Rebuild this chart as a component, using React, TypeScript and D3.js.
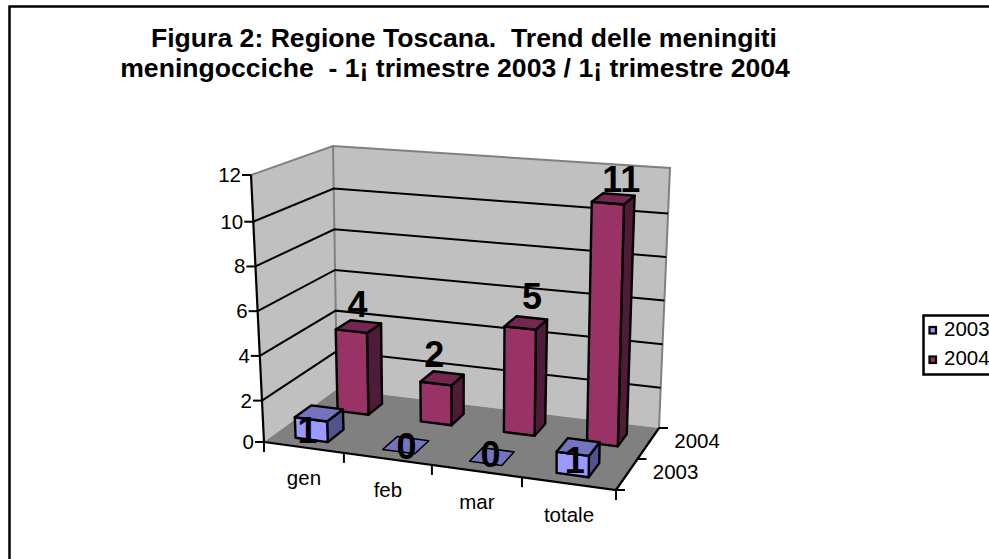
import React from "react";
import * as d3 from "d3";

const categories = ["gen", "feb", "mar", "totale"];
const seriesNames = ["2003", "2004"];
const values2003 = [1, 0, 0, 1];
const values2004 = [4, 2, 5, 11];
const yTicks = [0, 2, 4, 6, 8, 10, 12];
const titleLines = ["Figura 2: Regione Toscana.  Trend delle meningiti", "meningocciche  - 1¡ trimestre 2003 / 1¡ trimestre 2004"];

const colors = [
  { front: "#9999ff", top: "#7373bf", side: "#52528c" },
  { front: "#993366", top: "#732650", side: "#4e1c38" },
];

const uScale = d3.scaleLinear().domain([0, categories.length]).range([0, 1]);
const vScale = d3.scaleLinear().domain([0, seriesNames.length]).range([0, 1]);
const hScale = d3.scaleLinear().domain([0, 2, 10, 12]).range([0, 0.155, 0.825, 1]);
// The category axis ticks of the 3D projection are not evenly spaced
const tickU = d3.scaleLinear().domain([0, 1, 2, 3, 4]).range([0, 0.227, 0.477, 0.733, 1]);
const box = {
  f0: [264, 442], f1: [616, 490], b0: [337, 389], b1: [659, 428],
  tf0: [251, 175], tf1: [618, 212], tb0: [333, 146], tb1: [670, 168],
};
const mix = (a: number[], b: number[], t: number) => [a[0] + (b[0] - a[0]) * t, a[1] + (b[1] - a[1]) * t];
function projectRaw(u: number, v: number, h: number) {
  const bottom = mix(mix(box.f0, box.f1, u), mix(box.b0, box.b1, u), v);
  const top = mix(mix(box.tf0, box.tf1, u), mix(box.tb0, box.tb1, u), v);
  return mix(bottom, top, h);
}
const project = (cat: number, ser: number, val: number) => projectRaw(uScale(cat), vScale(ser), hScale(val));
const poly = (pts: number[][]) => pts.map(p => p.map(n => n.toFixed(1)).join(",")).join(" ");
const line = d3.line();

const FONT = "'Liberation Sans', Arial, sans-serif";
const HALF_U = 0.185;
const HALF_V = [0.23, 0.2];
const SERIES_SHIFT = [-0.065, 0];
const AXIS_FONT = 20.5;
// small per-label shifts of the data labels, as the source chart placed them
const labelNudge = [
  [[-17, 29], [-5, 13], [-7, 10], [-9, 25]],
  [[-1, -9], [-8, -11], [6, -14], [8, -7]],
];

function Bar({ cat, ser, val }: { cat: number; ser: number; val: number }) {
  const u0 = cat + 0.5 - HALF_U + SERIES_SHIFT[ser], u1 = cat + 0.5 + HALF_U + SERIES_SHIFT[ser];
  const v0 = ser + 0.5 - HALF_V[ser], v1 = ser + 0.5 + HALF_V[ser];
  const c = colors[ser];
  const stroke = { stroke: "#000", strokeWidth: 2.4, strokeLinejoin: "round" as const };
  return (
    <g>
      {val > 0 && <polygon points={poly([project(u1, v0, 0), project(u1, v1, 0), project(u1, v1, val), project(u1, v0, val)])} fill={c.side} {...stroke} />}
      {val > 0 && <polygon points={poly([project(u0, v0, 0), project(u1, v0, 0), project(u1, v0, val), project(u0, v0, val)])} fill={c.front} {...stroke} />}
      <polygon points={poly([project(u0, v0, val), project(u1, v0, val), project(u1, v1, val), project(u0, v1, val)])} fill={c.top} {...stroke} strokeWidth={val > 0 ? 2.4 : 1.5} />
    </g>
  );
}

function BarLabel({ cat, ser, val }: { cat: number; ser: number; val: number }) {
  const lab = project(cat + 0.5, ser + 0.5, val);
  const [dx, dy] = labelNudge[ser][cat];
  return <text x={lab[0] + dx} y={lab[1] + dy} textAnchor="middle" fontFamily={FONT} fontWeight="bold" fontSize={36} fill="#000">{val}</text>;
}

export default function App() {
  const seriesValues = [values2003, values2004];
  const nC = categories.length, nS = seriesNames.length;
  const axisPoint = (i: number) => projectRaw(tickU(i), 0, 0);
  return (
    <svg width={989} height={559} style={{ position: "absolute", left: 0, top: 0 }}>
      <rect width={989} height={559} fill="#fff" />
      <path d="M9.5,559 V6.5 H989" fill="none" stroke="#000" strokeWidth={2.5} />
      {titleLines.map((t, i) => (
        <text key={i} x={i === 0 ? 464 : 455} y={47 + i * 30} textAnchor="middle" fontFamily={FONT} fontWeight="bold" fontSize={26.6} fill="#000" xmlSpace="preserve" style={{ whiteSpace: "pre" }}>{t}</text>
      ))}
      {/* walls */}
      <polygon points={poly([project(0, 0, 0), project(0, nS, 0), project(0, nS, 12), project(0, 0, 12)])} fill="#c0c0c0" />
      <polygon points={poly([project(0, nS, 0), project(nC, nS, 0), project(nC, nS, 12), project(0, nS, 12)])} fill="#c0c0c0" />
      <polygon points={poly([project(0, 0, 0), project(nC, 0, 0), project(nC, nS, 0), project(0, nS, 0)])} fill="#808080" />
      <path d={line([project(0, 0, 12), project(0, nS, 12), project(nC, nS, 12), project(nC, nS, 0)] as any)!} fill="none" stroke="#808080" strokeWidth={2} />
      <path d={line([project(0, nS, 12), project(0, nS, 0)] as any)!} fill="none" stroke="#808080" strokeWidth={2} />
      {/* gridlines */}
      {yTicks.filter(t => t > 0 && t < 12).map(t => (
        <path key={t} d={line([project(0, 0, t), project(0, nS, t), project(nC, nS, t)] as any)!} fill="none" stroke="#000" strokeWidth={2} />
      ))}
      {/* axes */}
      <path d={line([project(0, 0, 0), project(0, 0, 12)] as any)!} stroke="#000" strokeWidth={2.2} fill="none" />
      <path d={line([project(0, 0, 0), project(nC, 0, 0), project(nC, nS, 0)] as any)!} stroke="#000" strokeWidth={2.2} fill="none" />
      {yTicks.map(t => {
        const p = project(0, 0, t);
        return (
          <g key={t}>
            <line x1={p[0] - 9} y1={p[1]} x2={p[0]} y2={p[1]} stroke="#000" strokeWidth={2} />
            <text x={p[0] - 10} y={p[1] + 7} textAnchor="end" fontFamily={FONT} fontSize={AXIS_FONT} fill="#000">{t}</text>
          </g>
        );
      })}
      {d3.range(nC + 1).map(i => {
        const p = axisPoint(i);
        return <line key={i} x1={p[0]} y1={p[1]} x2={p[0]} y2={p[1] + 10} stroke="#000" strokeWidth={2} />;
      })}
      {d3.range(nS + 1).map(i => {
        const p = project(nC, i, 0);
        return <line key={i} x1={p[0]} y1={p[1]} x2={p[0] + 9} y2={p[1]} stroke="#000" strokeWidth={2} />;
      })}
      {categories.map((c, i) => {
        const a = axisPoint(i), b = axisPoint(i + 1);
        return <text key={c} x={(a[0] + b[0]) / 2} y={(a[1] + b[1]) / 2 + 38} textAnchor="middle" fontFamily={FONT} fontSize={AXIS_FONT} fill="#000">{c}</text>;
      })}
      {seriesNames.map((s, i) => {
        const p = project(nC, i + 0.5, 0);
        return <text key={s} x={p[0] + 26} y={p[1] + 4} fontFamily={FONT} fontSize={AXIS_FONT} fill="#000">{s}</text>;
      })}
      {/* bars, back series first */}
      {[1, 0].map(s => categories.map((_, i) => <Bar key={s + "-" + i} cat={i} ser={s} val={seriesValues[s][i]} />))}
      {[1, 0].map(s => categories.map((_, i) => <BarLabel key={s + "-" + i} cat={i} ser={s} val={seriesValues[s][i]} />))}
      {/* legend */}
      <path d="M989,315.5 H923.5 V374.5 H989" fill="#fff" stroke="#000" strokeWidth={2.5} />
      {seriesNames.map((s, i) => (
        <g key={s}>
          <rect x={929.5} y={327 + i * 29.5} width={6.5} height={6.5} fill={colors[i].front} stroke="#000" strokeWidth={2.2} />
          <text x={944} y={336 + i * 29} fontFamily={FONT} fontSize={AXIS_FONT} fill="#000">{s}</text>
        </g>
      ))}
    </svg>
  );
}
